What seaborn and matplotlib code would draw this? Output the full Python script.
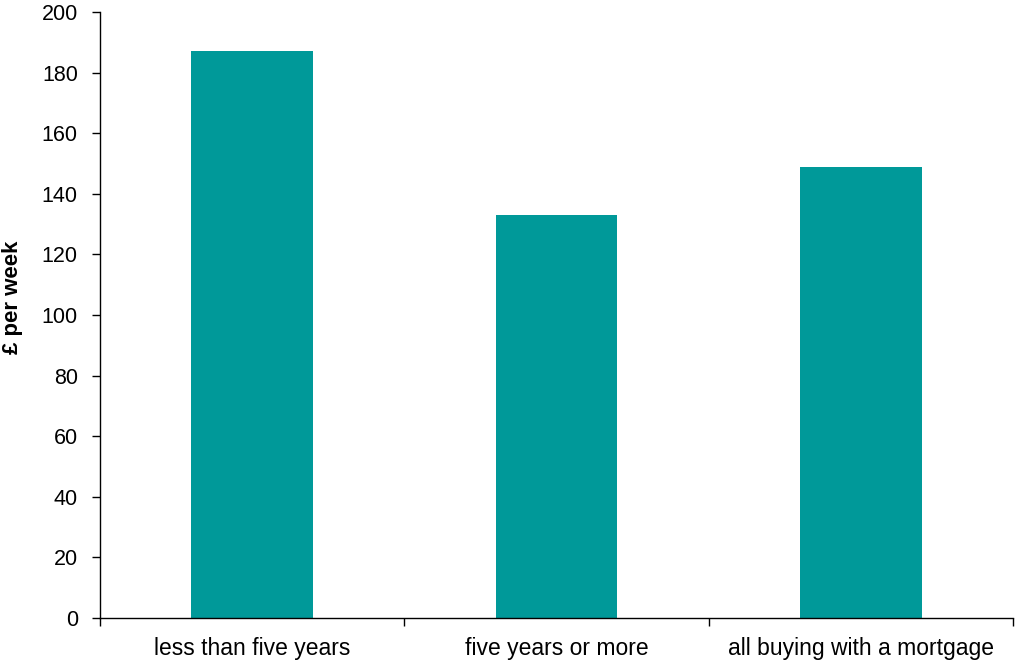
import matplotlib
matplotlib.use("Agg")
import matplotlib.pyplot as plt
import seaborn as sns
import pandas as pd
from matplotlib.ticker import FixedLocator, NullFormatter

categories = ["less than five years", "five years or more", "all buying with a mortgage"]
values = [187, 133, 149]
y_ticks = [0, 20, 40, 60, 80, 100, 120, 140, 160, 180, 200]

sns.set_theme(style="white")
plt.rcParams['font.family'] = ['Liberation Sans', 'DejaVu Sans']

df = pd.DataFrame({"category": categories, "value": values})

fig = plt.figure(figsize=(10.16, 6.62), dpi=100)
ax = fig.add_axes([100/1016, 1-618/662, (1013-100)/1016, (618-12)/662])

sns.barplot(data=df, x="category", y="value", color="#009999", width=0.4,
            saturation=1, ax=ax)
for p in ax.patches:
    p.set_edgecolor("none")

ax.set_xlim(-0.5, 2.5)
ax.set_ylim(0, 200)
ax.set_yticks(y_ticks)
ax.set_yticklabels([str(t) for t in y_ticks], fontsize=15.5, color="black")
for lbl in ax.get_xticklabels():
    lbl.set_fontsize(16.5)
    lbl.set_color("black")
ax.set_xlabel("")
ax.set_ylabel("£ per week", fontsize=16, fontweight="bold", color="black")
ax.yaxis.set_label_coords(-0.084, 0.53)

ax.tick_params(axis="x", which="major", length=0, pad=14)
ax.xaxis.set_minor_locator(FixedLocator([-0.5, 0.5, 1.5, 2.5]))
ax.xaxis.set_minor_formatter(NullFormatter())
ax.tick_params(axis="x", which="minor", length=6, width=1, color="black", direction="out", bottom=True)
ax.tick_params(axis="y", length=6, width=1, color="black", direction="out", left=True, pad=10)

for s in ["top", "right"]:
    ax.spines[s].set_visible(False)
for s in ["left", "bottom"]:
    ax.spines[s].set_color("black")
    ax.spines[s].set_linewidth(1)

fig.savefig("out.png", dpi=100)
